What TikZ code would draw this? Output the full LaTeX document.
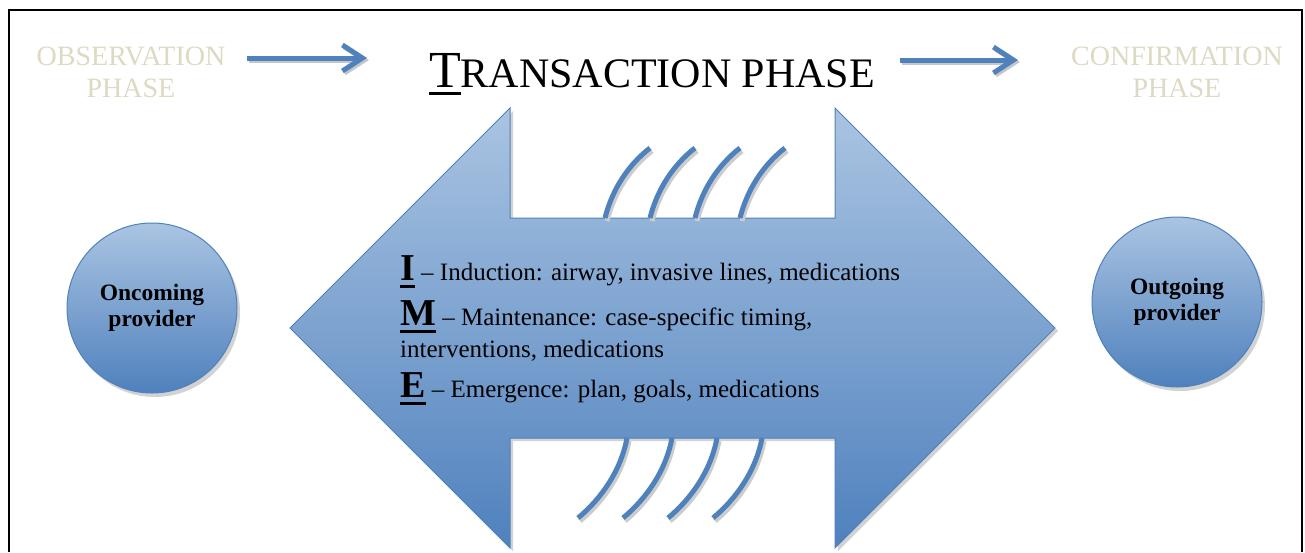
\documentclass[tikz,border=0pt]{standalone}
\usepackage{fontspec}
\setmainfont{Liberation Serif}
\usepackage{tikz}
\usetikzlibrary{arrows.meta,shadows}

\definecolor{accentblue}{RGB}{79,129,189}
\definecolor{paleblue}{RGB}{170,196,226}
\definecolor{tanphase}{RGB}{221,217,195}

\newsavebox{\keybox}
\newcommand{\thickul}[1]{\sbox{\keybox}{#1}\rlap{\rule[-8pt]{\wd\keybox}{3.5pt}}\usebox{\keybox}}

\begin{document}
\begin{tikzpicture}[x=1pt, y=-1pt,
    phase/.style={text=tanphase, align=center, font=\fontsize{28}{32}\selectfont},
    phasearrow/.style={-{Straight Barb[length=20pt,width=26pt]}, line width=5pt},
    provider/.style={circle, minimum size=170pt, inner sep=0pt, draw=accentblue,
      line width=1pt, top color=paleblue, bottom color=accentblue, align=center,
      font=\bfseries\fontsize{23.5}{26}\selectfont,
      drop shadow={shadow xshift=3pt, shadow yshift=-4pt, fill=gray!70, opacity=.5}},
    wire/.style={line width=5pt}]
  \useasboundingbox (0,0) rectangle (1305,552);

  % frame, open at the bottom
  \draw[line width=2pt] (9,552) |- (1302,10) -- (1302,552);

  % phases
  \node[phase, anchor=base] (obs) at (131,97) {OBSERVATION\\PHASE};
  \node[phase, anchor=base] (conf) at (1177,97) {CONFIRMATION\\PHASE};
  \node[anchor=base] (trans) at (652,87)
    {\thickul{\fontsize{52}{52}\selectfont T}\fontsize{42}{42}\selectfont RANSACTION PHASE};

  \coordinate (obsout) at (247,58);
  \coordinate (transin) at (367,58);
  \coordinate (transout) at (900,60);
  \coordinate (confin) at (1018,60);
  \foreach \c/\s in {gray!45/2pt, accentblue/0pt} {
    \draw[phasearrow, \c, transform canvas={xshift=\s, yshift=-\s}] (obsout) -- (transin);
    \draw[phasearrow, \c, transform canvas={xshift=\s, yshift=-\s}] (transout) -- (confin);
  }

  % double arrow
  \path[draw=accentblue, line width=1pt, top color=paleblue, bottom color=accentblue,
      drop shadow={shadow xshift=3pt, shadow yshift=-3pt, fill=gray!70, opacity=.5}]
    (290,328) -- (510,108) -- (510,218) -- (835,218) -- (835,108) -- (1055,328)
    -- (835,548) -- (835,438) -- (510,438) -- (510,548) -- cycle;

  % wires
  \foreach \c/\s in {gray!40/2pt, accentblue/0pt}
    \foreach \dx in {0,45,90,135} {
      \draw[wire, \c, transform canvas={xshift=\s, yshift=-1.5*\s}]
        (605+\dx,218) .. controls (612+\dx,190) and (628+\dx,165) .. (650+\dx,148);
      \draw[wire, \c, transform canvas={xshift=\s, yshift=-1.5*\s}]
        (627+\dx,438) .. controls (621+\dx,470) and (602+\dx,498) .. (578+\dx,518);
    }

  % IME
  \node[anchor=base west, align=left, inner sep=0pt, font=\fontsize{25}{32}\selectfont] (ime) at (400,397)
    {\thickul{\bfseries\fontsize{38}{38}\selectfont I} -- Induction: airway, invasive lines, medications\\[11pt]
     \thickul{\bfseries\fontsize{38}{38}\selectfont M} -- Maintenance: case-specific timing,\\
     interventions, medications\\[8pt]
     \thickul{\bfseries\fontsize{38}{38}\selectfont E} -- Emergence: plan, goals, medications};

  % providers
  \node[provider] (oncoming) at (152,308) {Oncoming\\provider};
  \node[provider] (outgoing) at (1177,302) {Outgoing\\provider};
\end{tikzpicture}
\end{document}
